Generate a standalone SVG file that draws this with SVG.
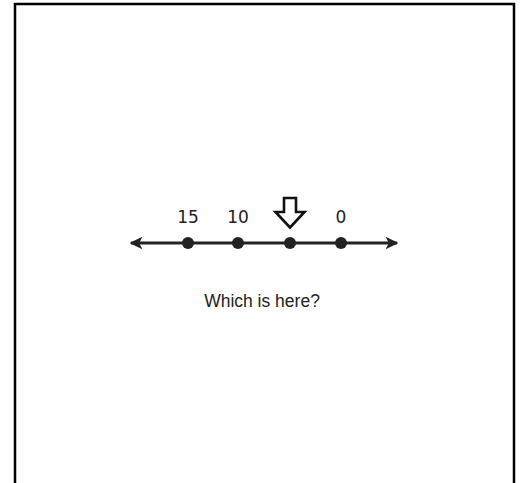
<svg xmlns="http://www.w3.org/2000/svg" width="520" height="483" viewBox="0 0 520 483">
<style>
.lbl{font-family:"DejaVu Sans",Verdana,sans-serif;font-size:17px;fill:#222;text-anchor:middle}
.cap{font-family:"Liberation Sans",Arial,sans-serif;font-size:17.5px;fill:#222;text-anchor:middle}
.ln{stroke:#222;stroke-width:3;fill:none}
.dot{fill:#222}
</style>
<defs>
<marker id="ah" viewBox="0 0 10 10" refX="9" refY="5" markerWidth="4.2" markerHeight="4.2" orient="auto-start-reverse" markerUnits="strokeWidth">
<path d="M0,0 L10,5 L0,10 L2.5,5 Z" fill="#222"/>
</marker>
</defs>
<rect width="520" height="483" fill="#fff"/>
<path d="M15,483 V4 H514 V483" fill="none" stroke="#000" stroke-width="2.5"/>
<g id="connectors">
<line class="ln" x1="131" y1="243" x2="397" y2="243" marker-start="url(#ah)" marker-end="url(#ah)"/>
</g>
<g id="p15"><circle class="dot" cx="188" cy="243" r="6"/><text class="lbl" x="188" y="223">15</text></g>
<g id="p10"><circle class="dot" cx="238" cy="243" r="6"/><text class="lbl" x="238" y="223">10</text></g>
<g id="p5"><circle class="dot" cx="290" cy="243" r="6"/></g>
<g id="p0"><circle class="dot" cx="341" cy="243" r="6"/><text class="lbl" x="341" y="223">0</text></g>
<g id="pointer"><path d="M284,198 H296 V212 H304.5 L290,227.5 L275.5,212 H284 Z" fill="#fff" stroke="#111" stroke-width="2.6" stroke-linejoin="miter"/></g>
<g id="caption"><text class="cap" x="262" y="307">Which is here?</text></g>
</svg>
